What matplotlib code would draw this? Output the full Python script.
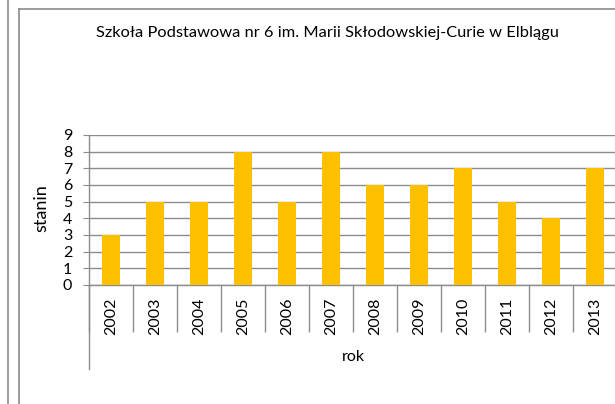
import numpy as np
import matplotlib as mpl
import matplotlib.pyplot as plt
from matplotlib.lines import Line2D

mpl.rcParams['font.family'] = ['Lato', 'DejaVu Sans']

years = ["2002", "2003", "2004", "2005", "2006", "2007",
         "2008", "2009", "2010", "2011", "2012", "2013"]
stanin = [3, 5, 5, 8, 5, 8, 6, 6, 7, 5, 4, 7]

W, H = 615, 404
fig = plt.figure(figsize=(W / 100, H / 100), dpi=100)

# plot area runs past the right edge of the picture (cut off like the original)
ax = fig.add_axes([89 / W, 1 - 285 / H, 528 / W, 150 / H])
x = np.arange(len(years))
ax.bar(x, stanin, width=0.39, color="#FFC000", zorder=3)

ax.set_xlim(-0.5, len(years) - 0.5)
ax.set_ylim(0, 9)
ax.set_yticks(range(0, 10))
ax.grid(axis='y', color="#8c8c8c", linewidth=1.0, zorder=0)

for s in ['top', 'right']:
    ax.spines[s].set_visible(False)
for s in ['left', 'bottom']:
    ax.spines[s].set_color("#8c8c8c")
    ax.spines[s].set_linewidth(1.0)

ax.tick_params(axis='y', length=4, color="#8c8c8c", labelsize=11.5, pad=8)
ax.set_xticks(x)
ax.set_xticklabels(years, rotation=90, fontsize=11.5)
ax.tick_params(axis='x', which='major', length=0, pad=9)
ax.set_xticks(np.arange(len(years) + 1) - 0.5, minor=True)
ax.tick_params(axis='x', which='minor', length=34, color="#8c8c8c", width=1.0)

# long first separator of the grouped category axis
ax.plot([-0.5, -0.5], [0, -0.56], transform=ax.get_xaxis_transform(),
        color="#8c8c8c", linewidth=1.0, clip_on=False)

fig.text(41 / W, 1 - 208 / H, "stanin", rotation=90, ha='center', va='center', fontsize=13)
fig.text(353 / W, 1 - 357 / H, "rok", ha='center', va='center', fontsize=11.5)
fig.text(327 / W, 1 - 33 / H, "Szkoła Podstawowa nr 6 im. Marii Skłodowskiej-Curie w Elblągu",
         ha='center', va='center', fontsize=11.8)

# chart frame and neighbouring frame edge
fig.add_artist(Line2D([7.5 / W, 7.5 / W], [0, 1], color="#8c8c8c", linewidth=1.2))
fig.add_artist(Line2D([18.5 / W, 18.5 / W], [0, 1 - 9 / H], color="#8c8c8c", linewidth=1.2))
fig.add_artist(Line2D([18.5 / W, 1], [1 - 9 / H, 1 - 9 / H], color="#8c8c8c", linewidth=1.2))

fig.savefig("out.png", dpi=100)
